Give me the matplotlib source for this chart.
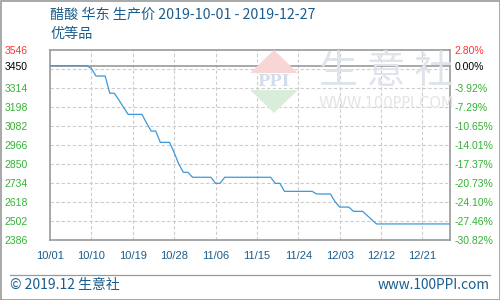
import numpy as np
import pandas as pd
import matplotlib
matplotlib.use("Agg")
import matplotlib.pyplot as plt
import matplotlib.dates as mdates
from matplotlib.patches import Polygon, Rectangle
from matplotlib.lines import Line2D

# ------------------------------------------------------------------------------------------
# data (one value per day, 10/01 .. 12/27)
dates = pd.date_range("2019-10-01", "2019-12-27", freq="D")
prices = [3450, 3450, 3450, 3450, 3450, 3450, 3450, 3450, 3450, 3434,   # 10/01 - 10/10
          3387, 3387, 3387, 3282, 3282, 3240, 3195, 3153, 3153, 3153,   # 10/11 - 10/20
          3153, 3100, 3051, 3051, 2982, 2982, 2982, 2920, 2850, 2799,   # 10/21 - 10/30
          2799, 2769, 2769, 2769, 2769, 2769, 2732, 2732, 2769, 2769,   # 10/31 - 11/09
          2769, 2769, 2769, 2769, 2769, 2769, 2769, 2769, 2769, 2732,   # 11/10 - 11/19
          2732, 2683, 2683, 2683, 2683, 2683, 2683, 2683, 2667, 2667,   # 11/20 - 11/29
          2667, 2667, 2620, 2587, 2587, 2587, 2561, 2561, 2561, 2535,   # 11/30 - 12/09
          2510, 2484, 2484, 2484, 2484, 2484, 2484, 2484, 2484, 2484,   # 12/10 - 12/19
          2484, 2484, 2484, 2484, 2484, 2484, 2484, 2484]               # 12/20 - 12/27

base_price = 3450
y_min, y_max = 2386, 3546
grid_values = [2386, 2502, 2618, 2734, 2850, 2966, 3082, 3198, 3314, 3430, 3546]
left_tick_values = [3546, 3450, 3314, 3198, 3082, 2966, 2850, 2734, 2618, 2502, 2386]
right_tick_labels = ["2.80%", "0.00%", "-3.92%", "-7.29%", "-10.65%", "-14.01%",
                     "-17.37%", "-20.73%", "-24.10%", "-27.46%", "-30.82%"]
x_tick_dates = pd.date_range("2019-10-01", "2019-12-21", freq="9D")

title_text = "醋酸 华东 生产价 2019-10-01 - 2019-12-27"
subtitle_text = "优等品"
footer_left = "© 2019.12 生意社"
footer_right = "www.100PPI.com"

# ------------------------------------------------------------------------------------------
# colours
c_blue_text = "#1b5d8c"
c_line = "#3d98d6"
c_green = "#33b233"
c_red = "#ff3333"
c_frame = "#999999"
c_grid = "#cccccc"

plt.rcParams['font.family'] = ['Liberation Sans', 'DejaVu Sans']
cjk = ['Noto Sans CJK SC', 'DejaVu Sans']

fig = plt.figure(figsize=(5, 3), dpi=100)
W, H = 500.0, 300.0

ax = fig.add_axes([50 / W, 60 / H, 400 / W, 190 / H])
ax.set_xlim(dates[0], dates[-1])
ax.set_ylim(y_min, y_max)

# grid
for gv in grid_values[1:-1]:
    ax.axhline(gv, color=c_grid, lw=0.8, ls=(0, (3, 2)), zorder=1)
for xd in x_tick_dates[1:]:
    ax.axvline(xd, color=c_grid, lw=0.8, ls=(0, (3, 2)), zorder=1)

# base line
ax.axhline(base_price, color=c_frame, lw=1.2, zorder=2)

# price line
ax.plot(dates, prices, color=c_line, lw=0.9, zorder=3)

for sp in ax.spines.values():
    sp.set_color(c_frame)
    sp.set_linewidth(1.2)

# x ticks
ax.set_xticks(x_tick_dates)
ax.xaxis.set_major_formatter(mdates.DateFormatter("%m/%d"))
ax.tick_params(axis="x", length=0, pad=8, labelsize=8, labelcolor=c_blue_text)

# left ticks
ax.set_yticks(left_tick_values)
ax.set_yticklabels([str(v) for v in left_tick_values])
ax.tick_params(axis="y", length=0, pad=16, labelsize=7.5)
for i, lab in enumerate(ax.get_yticklabels()):
    lab.set_color(c_red if i == 0 else ("black" if i == 1 else c_green))

# right ticks
ax2 = ax.twinx()
ax2.set_ylim(y_min, y_max)
ax2.set_yticks(left_tick_values)
ax2.set_yticklabels(right_tick_labels)
ax2.tick_params(axis="y", length=0, pad=3, labelsize=7.5)
for i, lab in enumerate(ax2.get_yticklabels()):
    lab.set_color(c_red if i == 0 else ("black" if i == 1 else c_green))
for sp in ax2.spines.values():
    sp.set_visible(False)

# ------------------------------------------------------------------------------------------
# watermark (logo + site name)
tri_red = Polygon([[274 / W, 1 - 50 / H], [250 / W, 1 - 73 / H], [298 / W, 1 - 73 / H]],
                  closed=True, transform=fig.transFigure, facecolor="#f9d6d6", edgecolor="none", zorder=0)
tri_green = Polygon([[250 / W, 1 - 90 / H], [298 / W, 1 - 90 / H], [274 / W, 1 - 113 / H]],
                    closed=True, transform=fig.transFigure, facecolor="#d8eedb", edgecolor="none", zorder=0)
fig.patches.extend([tri_red, tri_green])
fig.text(274 / W, 1 - 81 / H, "PPI", ha="center", va="center", fontsize=12, fontweight="bold",
         color="#d3dcea", family="DejaVu Serif", zorder=0)
fig.text(386 / W, 1 - 72 / H, "生 意 社", ha="center", va="center", fontsize=28,
         color="#dfe4ec", family=cjk, zorder=0)
fig.text(386 / W, 1 - 104 / H, "WWW.100PPI.COM", ha="center", va="center", fontsize=10.5,
         color="#e4e4e4", family="DejaVu Sans", zorder=0)

# ------------------------------------------------------------------------------------------
# titles and footer
fig.text(50 / W, 1 - 15 / H, title_text, ha="left", va="center", fontsize=10.2,
         color=c_blue_text, family=cjk)
fig.text(50 / W, 1 - 34 / H, subtitle_text, ha="left", va="center", fontsize=10.2,
         color=c_blue_text, family=cjk)
fig.text(10 / W, 1 - 285 / H, footer_left, ha="left", va="center", fontsize=10,
         color=c_blue_text, family=cjk)
fig.text(490 / W, 1 - 285 / H, footer_right, ha="right", va="center", fontsize=9.8,
         color=c_blue_text, family=cjk)

fig.add_artist(Line2D([10 / W, 490 / W], [1 - 275 / H, 1 - 275 / H], color=c_frame, lw=0.9,
                      transform=fig.transFigure))
fig.patches.append(Rectangle((0.5 / W, 0.5 / H), 1 - 1 / W, 1 - 1 / H, transform=fig.transFigure,
                             facecolor="none", edgecolor=c_frame, lw=1.2))

fig.savefig("out.png", dpi=100)
